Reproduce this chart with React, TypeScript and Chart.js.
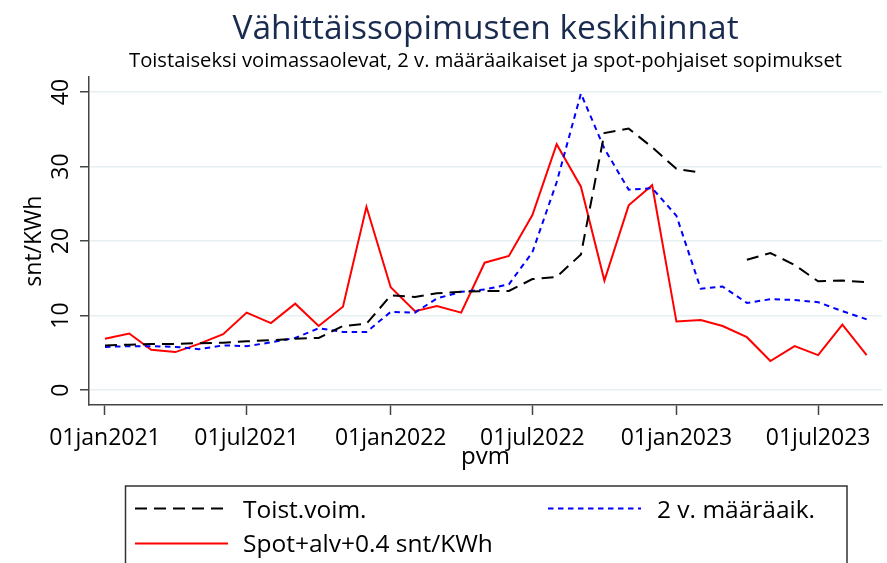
import React, { useEffect, useRef } from "react";
import { Chart, registerables } from "chart.js";

Chart.register(...registerables);

// ---- data ----
const months = [
  "2021-01-01", "2021-02-01", "2021-03-01", "2021-04-01", "2021-05-01", "2021-06-01",
  "2021-07-01", "2021-08-01", "2021-09-01", "2021-10-01", "2021-11-01", "2021-12-01",
  "2022-01-01", "2022-02-01", "2022-03-01", "2022-04-01", "2022-05-01", "2022-06-01",
  "2022-07-01", "2022-08-01", "2022-09-01", "2022-10-01", "2022-11-01", "2022-12-01",
  "2023-01-01", "2023-02-01", "2023-03-01", "2023-04-01", "2023-05-01", "2023-06-01",
  "2023-07-01", "2023-08-01", "2023-09-01",
];

const toistVoim: (number | null)[] = [
  6.0, 6.1, 6.2, 6.2, 6.3, 6.35, 6.55, 6.7, 6.9, 7.0, 8.6, 8.9,
  12.7, 12.5, 13.0, 13.2, 13.3, 13.3, 14.9, 15.2, 18.2, 34.5, 35.1, 32.6,
  29.7, 29.2, null, 17.5, 18.4, 16.8, 14.6, 14.7, 14.5,
];

const maaraaik: number[] = [
  5.8, 5.9, 5.9, 5.8, 5.5, 6.0, 5.9, 6.4, 7.0, 8.3, 7.8, 7.8,
  10.5, 10.4, 12.3, 13.2, 13.5, 14.2, 18.5, 27.9, 39.8, 32.4, 26.9, 27.1,
  23.4, 13.6, 13.9, 11.7, 12.2, 12.1, 11.8, 10.6, 9.5,
];

const spot: number[] = [
  6.9, 7.6, 5.4, 5.1, 6.2, 7.5, 10.4, 9.0, 11.6, 8.6, 11.2, 24.6,
  13.8, 10.6, 11.3, 10.4, 17.1, 18.0, 23.5, 33.0, 27.3, 14.7, 24.8, 27.5,
  9.2, 9.4, 8.6, 7.1, 3.9, 5.9, 4.7, 8.8, 4.7,
];

const seriesLabels = ["Toist.voim.", "2 v. määräaik.", "Spot+alv+0.4 snt/KWh"];

const xTickDates = ["2021-01-01", "2021-07-01", "2022-01-01", "2022-07-01", "2023-01-01", "2023-07-01"];
const xTickLabels = ["01jan2021", "01jul2021", "01jan2022", "01jul2022", "01jan2023", "01jul2023"];
const yTicks = [0, 10, 20, 30, 40];

const titleText = "Vähittäissopimusten keskihinnat";
const subtitleText = "Toistaiseksi voimassaolevat, 2 v. määräaikaiset ja spot-pohjaiset sopimukset";

// ---- helpers ----
const DAY = 86400000;
const origin = Date.parse(months[0]);
const toDay = (s: string) => Math.round((Date.parse(s) - origin) / DAY);
const toPoints = (vals: (number | null)[]) => months.map((m, i) => ({ x: toDay(m), y: vals[i] }));

const FONT = '"Open Sans", "DejaVu Sans", sans-serif';

const legendPlugin = {
  id: "boxLegend",
  afterDraw(chart: any) {
    const ctx = chart.ctx as CanvasRenderingContext2D;
    ctx.save();
    ctx.strokeStyle = "#333333";
    ctx.lineWidth = 1.5;
    ctx.setLineDash([]);
    ctx.strokeRect(125.5, 486, 721.5, 100);
    const items = [
      { ds: 0, x: 135, y: 508.5, tx: 243, ty: 518 },
      { ds: 1, x: 548, y: 508.5, tx: 657, ty: 518 },
      { ds: 2, x: 135, y: 543.5, tx: 243, ty: 552 },
    ];
    items.forEach((it) => {
      const ds = chart.data.datasets[it.ds];
      ctx.beginPath();
      ctx.setLineDash(ds.borderDash || []);
      ctx.strokeStyle = ds.borderColor;
      ctx.lineWidth = ds.borderWidth;
      ctx.moveTo(it.x, it.y);
      ctx.lineTo(it.x + 93, it.y);
      ctx.stroke();
      ctx.setLineDash([]);
      ctx.fillStyle = "#000000";
      ctx.font = `24.5px ${FONT}`;
      ctx.textBaseline = "alphabetic";
      ctx.textAlign = "left";
      ctx.fillText(ds.label, it.tx, it.ty);
    });
    ctx.restore();
  },
};

export default function App() {
  const ref = useRef<HTMLCanvasElement | null>(null);

  useEffect(() => {
    document.body.style.margin = "0";
    const canvas = ref.current;
    if (!canvas) return;
    const xTickDays = xTickDates.map(toDay);

    const chart = new Chart(canvas, {
      type: "line",
      data: {
        datasets: [
          {
            label: seriesLabels[0],
            data: toPoints(toistVoim),
            borderColor: "#000000",
            borderWidth: 2,
            borderDash: [12, 7],
            pointRadius: 0,
            tension: 0,
            spanGaps: false,
          },
          {
            label: seriesLabels[1],
            data: toPoints(maaraaik),
            borderColor: "#0000ff",
            borderWidth: 2,
            borderDash: [5.5, 4.5],
            pointRadius: 0,
            tension: 0,
          },
          {
            label: seriesLabels[2],
            data: toPoints(spot),
            borderColor: "#ff0000",
            borderWidth: 2,
            pointRadius: 0,
            tension: 0,
          },
        ],
      },
      options: {
        animation: false,
        responsive: false,
        devicePixelRatio: 1,
        layout: { padding: { left: 0, right: 5, top: 0, bottom: 88 } },
        plugins: {
          legend: { display: false },
          tooltip: { enabled: false },
          title: {
            display: true,
            text: titleText,
            fullSize: false,
            color: "#1a2b50",
            font: { family: FONT, size: 33.5, weight: "normal", lineHeight: 1 },
            padding: { top: 13, bottom: 0 },
          },
          subtitle: {
            display: true,
            text: subtitleText,
            fullSize: false,
            color: "#000000",
            font: { family: FONT, size: 20.2, weight: "normal", lineHeight: 1 },
            padding: { top: 4.5, bottom: 6 },
          },
        },
        scales: {
          x: {
            type: "linear",
            min: -20.4,
            max: 992.6,
            afterBuildTicks: (scale: any) => {
              scale.ticks = xTickDays.map((v) => ({ value: v }));
            },
            afterFit: (scale: any) => {
              scale.height = 70;
            },
            ticks: {
              autoSkip: false,
              maxRotation: 0,
              minRotation: 0,
              padding: 10,
              color: "#000000",
              font: { family: FONT, size: 23 },
              callback: (value: any) => {
                const i = xTickDays.indexOf(Number(value));
                return i >= 0 ? xTickLabels[i] : "";
              },
            },
            grid: {
              display: true,
              drawOnChartArea: false,
              drawTicks: true,
              tickLength: 10,
              tickColor: "#444444",
              tickWidth: 1.5,
            },
            border: { display: true, color: "#444444", width: 1.5 },
            title: {
              display: true,
              text: "pvm",
              color: "#000000",
              font: { family: FONT, size: 24 },
              padding: { top: 0, bottom: 3 },
            },
          },
          y: {
            type: "linear",
            min: -2,
            max: 42,
            afterBuildTicks: (scale: any) => {
              scale.ticks = yTicks.map((v) => ({ value: v }));
            },
            afterFit: (scale: any) => {
              scale.width = 89;
            },
            ticks: {
              minRotation: 90,
              maxRotation: 90,
              crossAlign: "center",
              padding: 5,
              color: "#000000",
              font: { family: FONT, size: 23 },
            },
            grid: {
              display: true,
              drawOnChartArea: true,
              color: "#e6eff1",
              lineWidth: 1.5,
              drawTicks: true,
              tickLength: 9,
              tickColor: "#444444",
              tickWidth: 1.5,
            },
            border: { display: true, color: "#444444", width: 1.5 },
            title: {
              display: true,
              text: "snt/KWh",
              color: "#000000",
              font: { family: FONT, size: 23 },
              padding: { top: 21, bottom: 0 },
            },
          },
        },
      } as any,
      plugins: [legendPlugin],
    });

    return () => chart.destroy();
  }, []);

  return (
    <div style={{ width: 887, height: 563, background: "#ffffff", position: "relative", overflow: "hidden" }}>
      <canvas ref={ref} width={887} height={563} style={{ display: "block" }} />
    </div>
  );
}
